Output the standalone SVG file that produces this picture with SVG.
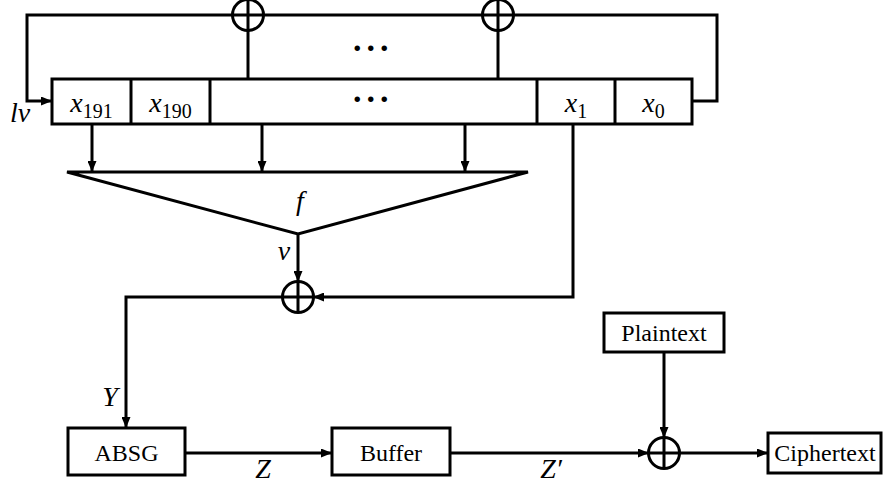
<svg xmlns="http://www.w3.org/2000/svg" width="884" height="487" viewBox="0 0 884 487">
<defs>
<marker id="ah" markerWidth="11" markerHeight="9" refX="10" refY="4.5" orient="auto" markerUnits="userSpaceOnUse">
<path d="M0,0 L11,4.5 L0,9 Z" fill="#000"/>
</marker>
<style>
.ln{fill:none;stroke:#000;stroke-width:3}
.bx{fill:#fff;stroke:#000;stroke-width:3}
.ar{fill:none;stroke:#000;stroke-width:3;marker-end:url(#ah)}
.t{font-family:"Liberation Serif","Times New Roman",serif;font-size:24px;fill:#000}
.i{font-family:"Liberation Serif","Times New Roman",serif;font-size:28px;font-style:italic;fill:#000}
.s{font-style:normal;font-size:20px}
.d{font-family:"Liberation Serif","Times New Roman",serif;font-size:34px;font-weight:bold;fill:#000;letter-spacing:5px}
</style>
</defs>
<rect width="884" height="487" fill="#fff"/>
<g id="connectors">
<polyline class="ln" points="692,101 717,101 717,15 513.5,15"/>
<line class="ln" x1="482.5" y1="15" x2="263.5" y2="15"/>
<polyline class="ar" points="232.5,15 27,15 27,101 51,101"/>
<line class="ln" x1="248" y1="79" x2="248" y2="30.5"/>
<line class="ln" x1="498" y1="79" x2="498" y2="30.5"/>
<line class="ar" x1="92" y1="124" x2="92" y2="171"/>
<line class="ar" x1="262" y1="124" x2="262" y2="171"/>
<line class="ar" x1="465" y1="124" x2="465" y2="171"/>
<line class="ar" x1="298" y1="234" x2="298" y2="281"/>
<polyline class="ar" points="573,124 573,297 314,297"/>
<polyline class="ar" points="282.5,297 126,297 126,427"/>
<line class="ar" x1="185" y1="453" x2="331" y2="453"/>
<line class="ar" x1="450" y1="453" x2="648" y2="453"/>
<line class="ar" x1="664" y1="352" x2="664" y2="437"/>
<line class="ar" x1="679" y1="453" x2="767" y2="453"/>
</g>
<g id="register">
<rect class="bx" x="52" y="79" width="640" height="45"/>
<line class="ln" x1="131" y1="79" x2="131" y2="124"/>
<line class="ln" x1="210" y1="79" x2="210" y2="124"/>
<line class="ln" x1="537" y1="79" x2="537" y2="124"/>
<line class="ln" x1="615" y1="79" x2="615" y2="124"/>
<text class="i" x="91.5" y="112" text-anchor="middle">x<tspan class="s" dy="6">191</tspan></text>
<text class="i" x="170.5" y="112" text-anchor="middle">x<tspan class="s" dy="6">190</tspan></text>
<text class="d" x="353" y="102">...</text>
<text class="i" x="576" y="112" text-anchor="middle">x<tspan class="s" dy="6">1</tspan></text>
<text class="i" x="653.5" y="112" text-anchor="middle">x<tspan class="s" dy="6">0</tspan></text>
</g>
<g id="xor1"><circle class="ln" cx="248" cy="15" r="15.5"/><path class="ln" d="M232.5,15H263.5M248,-0.5V30.5"/></g>
<g id="xor2"><circle class="ln" cx="498" cy="15" r="15.5"/><path class="ln" d="M482.5,15H513.5M498,-0.5V30.5"/></g>
<g id="dots-top"><text class="d" x="353" y="51">...</text></g>
<g id="iv"><text class="i" x="10" y="122">lv</text></g>
<g id="f">
<polygon class="ln" points="67,172 528,172 298,234"/>
<text class="i" x="300" y="210" text-anchor="middle">f</text>
</g>
<g id="v-label"><text class="i" x="284" y="260" text-anchor="middle">v</text></g>
<g id="xor3"><circle class="ln" cx="298" cy="297" r="15.5"/><path class="ln" d="M282.5,297H313.5M298,281.5V312.5"/></g>
<g id="y-label"><text class="i" x="110" y="406" text-anchor="middle">Y</text></g>
<g id="absg"><rect class="bx" x="68" y="428" width="117" height="47"/><text class="t" x="126.5" y="461" text-anchor="middle">ABSG</text></g>
<g id="z-label"><text class="i" x="263" y="478" text-anchor="middle">Z</text></g>
<g id="buffer"><rect class="bx" x="332" y="428" width="118" height="47"/><text class="t" x="391" y="461" text-anchor="middle">Buffer</text></g>
<g id="zp-label"><text class="i" x="551" y="478" text-anchor="middle">Z′</text></g>
<g id="plaintext"><rect class="bx" x="604" y="313" width="120" height="39"/><text class="t" x="664" y="341" text-anchor="middle">Plaintext</text></g>
<g id="xor4"><circle class="ln" cx="664" cy="453" r="15.5"/><path class="ln" d="M648.5,453H679.5M664,437.5V468.5"/></g>
<g id="ciphertext"><rect class="bx" x="768" y="433" width="113" height="40"/><text class="t" x="825" y="461" text-anchor="middle">Ciphertext</text></g>
</svg>
